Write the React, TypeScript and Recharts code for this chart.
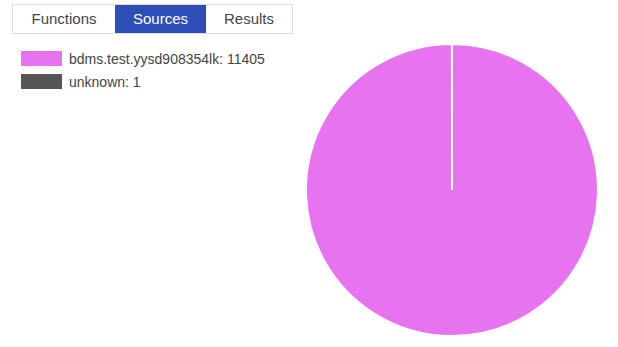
import React from 'react'
import { PieChart, Pie, Cell } from 'recharts'

const tabs = ['Functions', 'Sources', 'Results']
const activeTab = 'Sources'
const sourceNames = ['bdms.test.yysd908354lk', 'unknown']
const sourceCounts = [11405, 1]
const sourceColors = ['#e873f0', '#555555']

const data = sourceNames.map((name, i) => ({ name, value: sourceCounts[i] }))

const tabWidths: Record<string, number> = { Functions: 102, Sources: 91, Results: 86 }

function SourceLegend() {
  return (
    <div style={{ position: 'absolute', left: 21, top: 47 }}>
      {data.map((d, i) => (
        <div key={d.name} style={{ display: 'flex', alignItems: 'center', height: 23 }}>
          <div style={{ width: 41, height: 15, background: sourceColors[i], marginRight: 7 }} />
          <span style={{ fontSize: 14, color: '#444' }}>{`${d.name}: ${d.value}`}</span>
        </div>
      ))}
    </div>
  )
}

export default function App() {
  return (
    <div style={{ position: 'absolute', left: 0, top: 0, width: 618, height: 347, fontFamily: '"Liberation Sans", Arial, sans-serif', background: '#fff' }}>
      <PieChart width={618} height={347} margin={{ top: 0, right: 0, bottom: 0, left: 0 }} style={{ position: 'absolute', left: 0, top: 0 }}>
        <Pie
          data={data}
          dataKey="value"
          nameKey="name"
          cx={452}
          cy={190}
          outerRadius={146}
          startAngle={90}
          endAngle={-270}
          stroke="#fff"
          strokeWidth={2}
          isAnimationActive={false}
        >
          {data.map((d, i) => (
            <Cell key={d.name} fill={sourceColors[i]} />
          ))}
        </Pie>
      </PieChart>
      <div style={{ position: 'absolute', left: 12, top: 4, display: 'flex', border: '1px solid #ddd', height: 28 }}>
        {tabs.map((t) => (
          <div
            key={t}
            style={{
              width: tabWidths[t],
              height: 28,
              lineHeight: '28px',
              textAlign: 'center',
              fontSize: 15,
              color: t === activeTab ? '#fff' : '#444',
              background: t === activeTab ? '#2d4db7' : '#fff',
            }}
          >
            {t}
          </div>
        ))}
      </div>
      <SourceLegend />
    </div>
  )
}
